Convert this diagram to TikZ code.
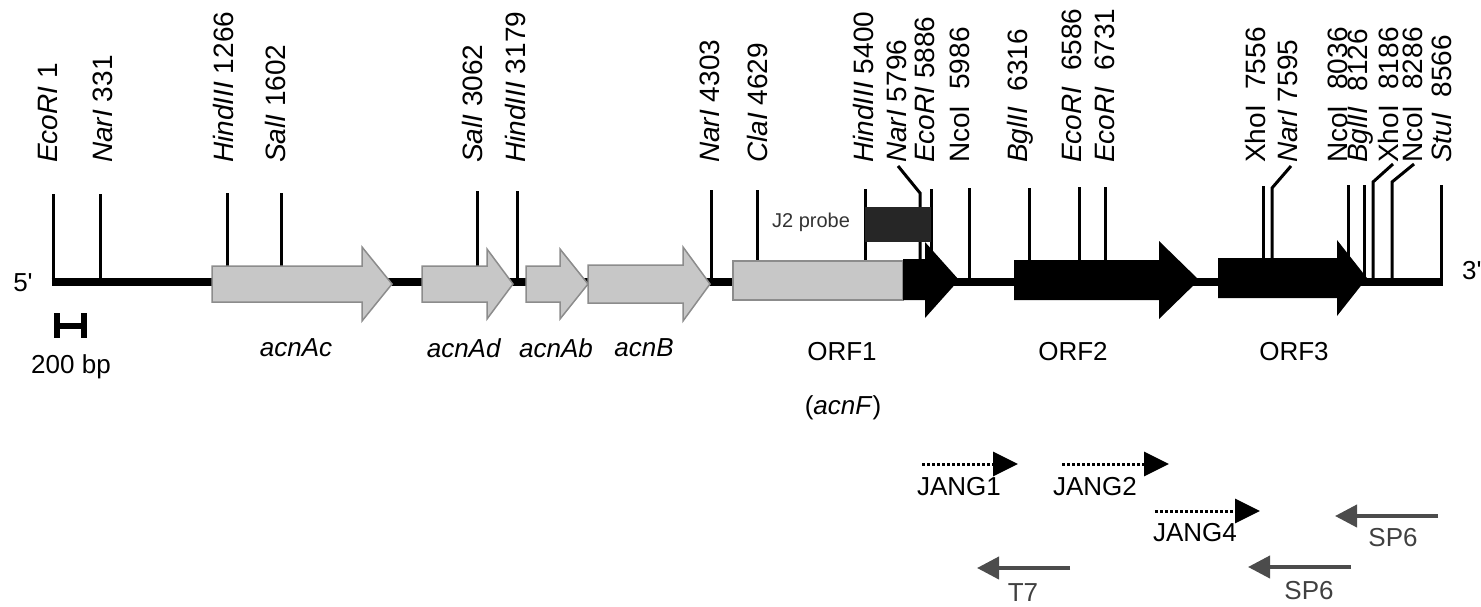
\documentclass[tikz,border=0pt]{standalone}
\usepackage{fontspec}
\setmainfont{Liberation Sans}
\usepackage{tikz}
\usetikzlibrary{arrows.meta,positioning}

\begin{document}
\begin{tikzpicture}[x=1pt,y=-1pt,>=Stealth]
\tikzset{
  site/.style={line width=3pt},
  enz/.style={rotate=90,anchor=west,inner sep=0pt,font=\fontsize{28}{28}\selectfont},
  cds/.style={draw=black!45,line width=1.5pt,fill=black!22},
  orf/.style={fill=black},
  lbl/.style={inner sep=0pt,font=\fontsize{26}{26}\selectfont},
  fwd/.style={line width=3pt,dash pattern=on 3pt off 2pt,-{Triangle[length=25pt,width=24pt]}},
  rev/.style={line width=4pt,draw=black!70,-{Triangle[length=22pt,width=22pt]}}
}
\useasboundingbox (0,0) rectangle (1481,606);

% restriction sites
\node[enz] (eco1) at (48,163) {\textit{EcoRI} 1};
\node[enz] (nar331) at (103,163) {\textit{NarI} 331};
\node[enz] (hin1266) at (223,163) {\textit{HindIII} 1266};
\node[enz] (sal1602) at (275,163) {\textit{SalI} 1602};
\node[enz] (sal3062) at (472,163) {\textit{SalI} 3062};
\node[enz] (hin3179) at (515,163) {\textit{HindIII} 3179};
\node[enz] (nar4303) at (710,163) {\textit{NarI} 4303};
\node[enz] (cla4629) at (757,163) {\textit{ClaI} 4629};
\node[enz] (hin5400) at (863,163) {\textit{HindIII} 5400};
\node[enz] (nar5796) at (897,163) {\textit{NarI} 5796};
\node[enz] (eco5886) at (925,163) {\textit{EcoRI} 5886};
\node[enz] (nco5986) at (960,163) {NcoI\ \ 5986};
\node[enz] (bgl6316) at (1020,163) {\textit{BglII}\ \ 6316};
\node[enz] (eco6586) at (1072,163) {\textit{EcoRI}\ \ 6586};
\node[enz] (eco6731) at (1105,163) {\textit{EcoRI}\ \ 6731};
\node[enz] (xho7556) at (1255,163) {XhoI\ \ 7556};
\node[enz] (nar7595) at (1288,163) {\textit{NarI} 7595};
\node[enz] (nco8036) at (1338,163) {NcoI\ \ 8036};
\node[enz] (bgl8126) at (1360,163) {\textit{BglII}\ \ 8126};
\node[enz] (xho8186) at (1388,163) {XhoI\ \ 8186};
\node[enz] (nco8286) at (1413,163) {NcoI\ \ 8286};
\node[enz] (stu8566) at (1442,163) {\textit{StuI}\ \ 8566};

\draw[site] (53,282) -- (53,194);
\draw[site] (100,282) -- (100,194);
\draw[site] (227,282) -- (227,193);
\draw[site] (281,282) -- (281,193);
\draw[site] (477,282) -- (477,191);
\draw[site] (517,282) -- (517,191);
\draw[site] (711,282) -- (711,190);
\draw[site] (757,282) -- (757,190);
\draw[site] (865,282) -- (865,189);
\draw[site] (920,282) -- (920,193) -- (898,166);
\draw[site] (931,282) -- (931,189);
\draw[site] (969,282) -- (969,188);
\draw[site] (1029,282) -- (1029,188);
\draw[site] (1079,282) -- (1079,187);
\draw[site] (1105,282) -- (1105,187);
\draw[site] (1263,282) -- (1263,186);
\draw[site] (1272,282) -- (1272,188) -- (1291,166);
\draw[site] (1348,282) -- (1348,185);
\draw[site] (1364,282) -- (1364,185);
\draw[site] (1373,282) -- (1373,182) -- (1393,164);
\draw[site] (1392,282) -- (1392,182) -- (1414,164);
\draw[site] (1441,282) -- (1441,185);

% backbone
\draw[line width=8pt] (51.5,282) -- (1442.5,282);
\node[lbl] (five) at (23,283) {5\textquotesingle};
\node[lbl,anchor=west] (three) at (1462,271) {3\textquotesingle};

% genes
\draw[cds] (212,266) -- (362,266) -- (362,247) -- (392,284) -- (362,321) -- (362,302) -- (212,302) -- cycle;
\draw[cds] (422,266) -- (487,266) -- (487,249) -- (513,284) -- (487,319) -- (487,302) -- (422,302) -- cycle;
\draw[cds] (526,266) -- (560,266) -- (560,249) -- (588,284) -- (560,319) -- (560,302) -- (526,302) -- cycle;
\draw[cds] (588,265) -- (683,265) -- (683,247) -- (710,284) -- (683,321) -- (683,303) -- (588,303) -- cycle;
\draw[cds] (733,261) rectangle (903,300);
\fill[orf] (903,259) -- (925,259) -- (925,242) -- (959,280) -- (925,318) -- (925,300) -- (903,300) -- cycle;
\fill[orf] (1014,260) -- (1159,260) -- (1159,241) -- (1199,280) -- (1159,319) -- (1159,300) -- (1014,300) -- cycle;
\fill[orf] (1218,258) -- (1337,258) -- (1337,240) -- (1367,278) -- (1337,316) -- (1337,298) -- (1218,298) -- cycle;

\fill[black!85] (865,207) rectangle (931,242);
\node[lbl,font=\fontsize{20}{20}\selectfont,text=black!80] (probe) at (811,222) {J2 probe};

\node[lbl] (acnAc) at (296,348) {\textit{acnAc}};
\node[lbl] (acnAd) at (464,348) {\textit{acnAd}};
\node[lbl] (acnAb) at (556,348) {\textit{acnAb}};
\node[lbl] (acnB) at (644,348) {\textit{acnB}};
\node[lbl] (orf1) at (842,352) {ORF1};
\node[lbl] (acnF) at (843,408) {(\textit{acnF})};
\node[lbl] (orf2) at (1073,352) {ORF2};
\node[lbl] (orf3) at (1294,352) {ORF3};

% scale bar
\draw[line width=6pt] (57,313) -- (57,338);
\draw[line width=6pt] (84,313) -- (84,338);
\draw[line width=6pt] (57,326) -- (84,326);
\node[lbl] (bar) at (71,367) {200 bp};

% primers
\coordinate (j1a) at (922,464); \coordinate (j1b) at (1018,464);
\coordinate (j2a) at (1062,464); \coordinate (j2b) at (1169,464);
\coordinate (j4a) at (1155,511); \coordinate (j4b) at (1260,511);
\coordinate (s1a) at (1438,516); \coordinate (s1b) at (1335,516);
\coordinate (s2a) at (1351,567); \coordinate (s2b) at (1248,567);
\coordinate (t7a) at (1070,568); \coordinate (t7b) at (977,568);
\draw[fwd] (j1a) -- (j1b);
\draw[fwd] (j2a) -- (j2b);
\draw[fwd] (j4a) -- (j4b);
\draw[rev] (s1a) -- (s1b);
\draw[rev] (s2a) -- (s2b);
\draw[rev] (t7a) -- (t7b);
\node[lbl] (jang1) at (959,487) {JANG1};
\node[lbl] (jang2) at (1095,487) {JANG2};
\node[lbl] (jang4) at (1195,533) {JANG4};
\node[lbl,text=black!75] (sp6a) at (1393,538) {SP6};
\node[lbl,text=black!75] (sp6b) at (1309,591) {SP6};
\node[lbl,text=black!75] (t7) at (1023,593) {T7};
\end{tikzpicture}
\end{document}
